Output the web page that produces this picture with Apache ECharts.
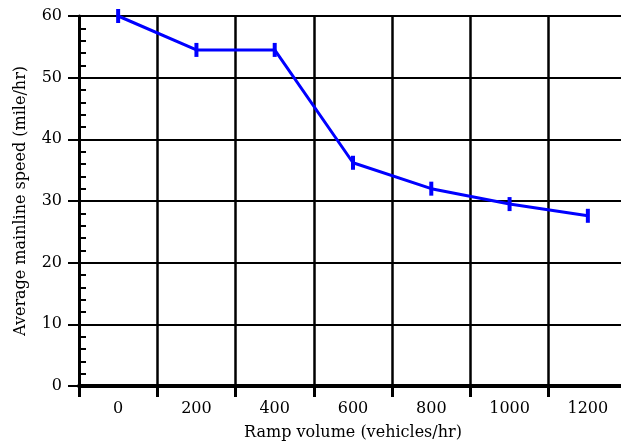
<!DOCTYPE html>
<html lang="en">
<head>
    <meta charset="UTF-8">
    <title>Ramp volume vs mainline speed</title>
    <script src="https://cdn.jsdelivr.net/npm/echarts@6/dist/echarts.min.js"></script>
    <style>
        html, body { margin: 0; padding: 0; background: #fff; }
        #box { width: 621px; height: 444px; }
    </style>
</head>
<body>
<div id="box"></div>
<script>
    // data
    var volumes = ['0', '200', '400', '600', '800', '1000', '1200'];
    var speeds = [60, 54.5, 54.5, 36.2, 32.0, 29.5, 27.6];

    var font = 'DejaVu Serif';
    var myChart = echarts.init(document.getElementById('box'));
    var option = {
        animation: false,
        grid: { left: 79, top: 16, width: 548, bottom: 58, containLabel: false, outerBoundsMode: 'none' },
        xAxis: {
            type: 'category',
            data: volumes,
            boundaryGap: true,
            name: 'Ramp volume (vehicles/hr)',
            nameLocation: 'middle',
            nameGap: 39,
            nameTextStyle: { fontFamily: font, fontSize: 16, color: '#000' },
            axisLine: { lineStyle: { color: '#000', width: 4 } },
            axisTick: { show: true, length: 11, lineStyle: { color: '#000', width: 3 } },
            axisLabel: { margin: 15, fontFamily: font, fontSize: 16, color: '#000' },
            splitLine: { show: true, interval: 0, lineStyle: { color: '#000', width: 2.5 } }
        },
        yAxis: [{
            type: 'value',
            min: 0,
            max: 60,
            interval: 10,
            name: 'Average mainline speed (mile/hr)',
            nameLocation: 'middle',
            nameGap: 50,
            nameTextStyle: { fontFamily: font, fontSize: 16, color: '#000' },
            axisLine: { show: true, lineStyle: { color: '#000', width: 3 } },
            axisTick: { show: true, length: 11, lineStyle: { color: '#000', width: 2 } },
            axisLabel: { margin: 17, fontFamily: font, fontSize: 16, color: '#000' },
            splitLine: { show: true, lineStyle: { color: '#000', width: 2 } }
        }, {
            // minor ticks, drawn inside
            type: 'value',
            position: 'left',
            min: 0,
            max: 60,
            interval: 2,
            axisLine: { show: false },
            axisTick: { show: true, inside: true, length: 7, lineStyle: { color: '#000', width: 2 } },
            axisLabel: { show: false },
            splitLine: { show: false }
        }],
        series: [{
            type: 'line',
            data: speeds,
            yAxisIndex: 0,
            symbol: 'rect',
            symbolSize: [4, 14],
            itemStyle: { color: '#0000ff' },
            lineStyle: { color: '#0000ff', width: 3 }
        }]
    };
    myChart.setOption(option);
</script>
</body>
</html>
